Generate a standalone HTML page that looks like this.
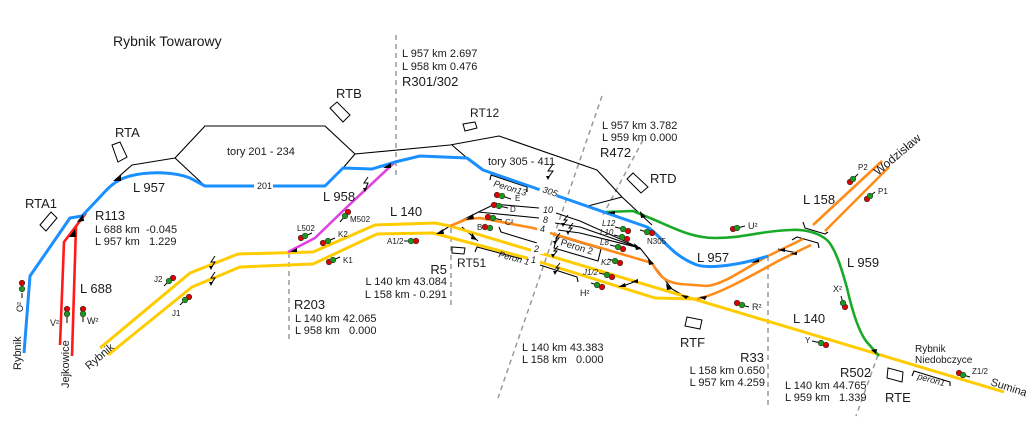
<!DOCTYPE html>
<html><head><meta charset="utf-8"><style>
html,body{margin:0;padding:0;background:#fff}
svg{display:block}
text{font-family:"Liberation Sans",Arial,sans-serif;fill:#1a1a1a;white-space:pre}
.b{font-size:13px}
.m{font-size:11px}
.s{font-size:8px}
.i{font-style:italic}
</style></head><body>
<svg width="1030" height="433" viewBox="0 0 1030 433" xmlns="http://www.w3.org/2000/svg">
<rect width="1030" height="433" fill="#fff"/>

<!-- dashed reference lines -->
<g stroke="#9a9a9a" stroke-width="1.5" stroke-dasharray="5,4" fill="none">
<line x1="396" y1="35" x2="396" y2="176"/>
<line x1="289" y1="253" x2="289" y2="340"/>
<line x1="451" y1="228" x2="451" y2="308"/>
<line x1="602" y1="96" x2="498" y2="398"/>
<line x1="643" y1="140" x2="603" y2="215"/>
<line x1="768" y1="256" x2="768" y2="405"/>
<line x1="878" y1="355" x2="856" y2="416"/>
</g>

<!-- black lines -->
<g stroke="#000" stroke-width="1.1" fill="none" stroke-linejoin="round">
<path d="M115,180 L132,165 L175,158 L205,126 L325,126 L355,154 L343,168"/>
<path d="M175,158 L205,186"/>
<path d="M355,154 L450,145 L499,136 L597,170 L622,197 L652,225"/>
<path d="M452,145 L467,158"/>
<path d="M622,197 L588,206"/>
<path d="M437,234 L450,226 L497,203"/>
<path d="M462,227 L478,241"/>
<path d="M493,204 L539,208 M556,213 L580,221 L640,248"/>
<path d="M478,212 L539,218 M555,223 L580,227 L640,248"/>
<path d="M558,230 L580,233 L640,248"/>
<path d="M640,248 L652,263 L672,289 L684,296"/>
<path d="M620,287 L637,281"/>
<path d="M778,249 L797,253"/>
<path d="M499,227 L501,232 L537,243"/>
<!-- perons -->
<path d="M490,180 L491,175 L527,187 L527,192"/>
<path d="M475,252 L477,247 L522,259"/>
<path d="M540,265 L577,277 L578,282"/>
<polygon points="557,236 601,249 598,261 554,248"/>
<path d="M912,376 L914,371 L950,382 L950,386"/>
<!-- bridge brackets -->
<path d="M803,222 L805,228 L825,234 L828,232"/>
<path d="M792,240 L797,237 L818,243 L819,248"/>
</g>

<!-- coloured tracks -->
<g fill="none" stroke-linejoin="round" stroke-linecap="butt">
<path stroke="#ff1a1a" stroke-width="2.6" d="M60,345 L64,242 L86,213 M72,356 L76,226"/>
<path stroke="#ffcc00" stroke-width="3" d="M100,348 L190,273 L238,254 L313,252 L375,225 L435,223 L450,226 L1004,392"/>
<path stroke="#ffcc00" stroke-width="3" d="M108,355 L192,287 L240,267 L313,264 L377,234 L433,233 L527,258 L655,298 L697,299"/>
<path stroke="#e040e0" stroke-width="2.6" d="M288,252 L315,238 L347,207 L395,162"/>
<path stroke="#ff8c1a" stroke-width="2.6" d="M450,226 L467,219 L480,218 L533,228 L652,263 C658,273 662,282 680,284 L707,286 C725,284 745,268 768,256 L803,239"/>
<path stroke="#ff8c1a" stroke-width="2.6" d="M697,299 C715,295 735,285 780,260 L811,245"/>
<path stroke="#ff8c1a" stroke-width="2.6" d="M813,225 L882,161 M825,231 L889,167"/>
<path stroke="#1aaa2a" stroke-width="2.6" d="M605,212 L633,211 L650,218 C670,226 690,238 715,238 C745,238 760,231 790,230 C805,229 820,233 828,241 C836,250 842,270 847,288 C852,310 858,330 866,341 L879,356"/>
<path stroke="#1a8fff" stroke-width="3" d="M24,353 L30,276 L70,218 L82,216 L100,197 C108,188 115,180 130,176 C150,171 175,172 190,178 L205,186 L325,186 L343,168 L372,169 L395,162 L420,156 L467,158 L483,170 L647,227 C660,234 670,255 697,265 C710,269 740,265 768,256"/>
</g>

<!-- switch triangles -->
<g fill="#000">
<polygon points="113,181 121,175 121,181"/>
<polygon points="69,237 75,229 76,237"/>
<polygon points="77,222 83,214 84,221"/>
<polygon points="383,168 391,163 391,168"/>
<polygon points="290,252 297,248 297,252"/>
<polygon points="436,234 443,229 444,234"/>
<polygon points="466,220 473,214 474,219"/>
<polygon points="472,233 477,240 471,239"/>
<polygon points="607,213 615,211 615,214"/>
<polygon points="640,211 646,217 641,218"/>
<polygon points="634,243 641,249 636,250"/>
<polygon points="648,258 654,264 649,265"/>
<polygon points="666,283 672,289 667,290"/>
<polygon points="618,287 625,283 626,287"/>
<polygon points="631,282 638,279 638,283"/>
<polygon points="681,295 689,296 686,299"/>
<polygon points="699,297 707,296 705,300"/>
<polygon points="751,263 759,259 759,262"/>
<polygon points="778,250 785,248 785,252"/>
<polygon points="790,254 797,252 797,255"/>
<polygon points="871,350 877,349 876,354"/>
</g>

<!-- station boxes -->
<g fill="#fff" stroke="#000" stroke-width="1">
<polygon points="112,145 120,142 127,157 118,162"/>
<polygon points="40,225 51,212 57,218 46,231"/>
<polygon points="330,108 337,102 350,115 343,122"/>
<polygon points="463,124 475,122 477,128 465,131"/>
<polygon points="452,247 465,248 464,254 452,253"/>
<polygon points="627,179 633,173 648,187 641,193"/>
<polygon points="687,317 702,320 700,329 685,326"/>
<polygon points="888,368 903,372 902,382 887,378"/>
</g>

<!-- lightning symbols -->
<g stroke="#000" stroke-width="1" fill="none">
<path d="M215,256 L211,262 L215,262 L211,268"/>
<path d="M215,272 L211,278 L215,278 L211,284"/>
<path d="M368,177 L364,183 L368,183 L365,190"/>
<path d="M553,164 L548,171 L553,171 L548,178"/>
<path d="M568,215 L564,220 L567,220 L563,225"/>
<path d="M573,223 L569,228 L572,228 L568,233"/>
<path d="M560,233 L556,238 L559,238 L555,243"/>
<path d="M558,246 L554,251 L557,251 L553,256"/>
<path d="M560,263 L556,268 L559,268 L555,273"/>
</g>
<g fill="#000">
<polygon points="209,266 211,270 213,266"/>
<polygon points="209,282 211,286 213,282"/>
<polygon points="363,188 365,192 367,188"/>
<polygon points="546,176 548,180 550,176"/>
<polygon points="561,223 563,227 565,223"/>
<polygon points="566,231 568,235 570,231"/>
<polygon points="553,241 555,245 557,241"/>
<polygon points="551,254 553,258 555,254"/>
<polygon points="553,271 555,275 557,271"/>
</g>

<!-- white label backgrounds on tracks -->
<g fill="#fff">
<rect x="254" y="181" width="19" height="10"/>
<rect x="540" y="184" width="18" height="11" transform="rotate(19 549 190)"/>
<rect x="540" y="204" width="15" height="10"/>
<rect x="540" y="214" width="13" height="10"/>
<rect x="537" y="224" width="13" height="10"/>
<rect x="531" y="243" width="13" height="11"/>
<rect x="528" y="254" width="12" height="11"/>
</g>

<!-- signals -->
<g stroke="#000" stroke-width="1">
<line x1="22" y1="293" x2="22" y2="298"/>
<line x1="67" y1="317" x2="67" y2="323"/>
<line x1="83" y1="317" x2="83" y2="322"/>
<line x1="164" y1="286" x2="169" y2="281"/>
<line x1="180" y1="305" x2="185" y2="300"/>
<line x1="305" y1="236" x2="312" y2="233"/>
<line x1="345" y1="216" x2="340" y2="222"/>
<line x1="328" y1="241" x2="335" y2="238"/>
<line x1="333" y1="260" x2="340" y2="257"/>
<line x1="404" y1="241" x2="411" y2="241"/>
<line x1="502" y1="196" x2="511" y2="199"/>
<line x1="499" y1="206" x2="508" y2="208"/>
<line x1="493" y1="218" x2="502" y2="220"/>
<line x1="615" y1="227" x2="623" y2="229"/>
<line x1="614" y1="235" x2="622" y2="237"/>
<line x1="610" y1="245" x2="618" y2="247"/>
<line x1="608" y1="259" x2="615" y2="261"/>
<line x1="599" y1="273" x2="607" y2="275"/>
<line x1="591" y1="283" x2="597" y2="285"/>
<line x1="640" y1="230" x2="647" y2="232"/>
<line x1="737" y1="228" x2="745" y2="226"/>
<line x1="742" y1="305" x2="749" y2="307"/>
<line x1="812" y1="341" x2="821" y2="343"/>
<line x1="841" y1="296" x2="843" y2="303"/>
<line x1="963" y1="375" x2="970" y2="377"/>
<line x1="853" y1="179" x2="858" y2="174"/>
<line x1="870" y1="196" x2="875" y2="192"/>
</g>
<g stroke="#333" stroke-width="0.6">
<g fill="#e00000">
<circle cx="22" cy="283" r="2.8"/><circle cx="67" cy="309" r="2.8"/><circle cx="83" cy="309" r="2.8"/>
<circle cx="173" cy="278" r="2.8"/><circle cx="189" cy="297" r="2.8"/><circle cx="301" cy="238" r="2.8"/>
<circle cx="348" cy="212" r="2.8"/><circle cx="323" cy="243" r="2.8"/><circle cx="329" cy="262" r="2.8"/>
<circle cx="416" cy="241" r="2.8"/><circle cx="497" cy="195" r="2.8"/><circle cx="494" cy="205" r="2.8"/>
<circle cx="488" cy="217" r="2.8"/><circle cx="485" cy="227" r="2.8"/><circle cx="628" cy="231" r="2.8"/>
<circle cx="627" cy="239" r="2.8"/><circle cx="623" cy="249" r="2.8"/><circle cx="620" cy="263" r="2.8"/>
<circle cx="612" cy="277" r="2.8"/><circle cx="602" cy="287" r="2.8"/><circle cx="652" cy="233" r="2.8"/>
<circle cx="733" cy="229" r="2.8"/><circle cx="737" cy="303" r="2.8"/><circle cx="826" cy="345" r="2.8"/>
<circle cx="845" cy="307" r="2.8"/><circle cx="959" cy="373" r="2.8"/><circle cx="850" cy="182" r="2.8"/>
<circle cx="867" cy="199" r="2.8"/>
</g>
<g fill="#1a9a1a">
<circle cx="22" cy="289" r="2.8"/><circle cx="67" cy="314" r="2.8"/><circle cx="83" cy="314" r="2.8"/>
<circle cx="169" cy="281" r="2.8"/><circle cx="185" cy="300" r="2.8"/><circle cx="305" cy="236" r="2.8"/>
<circle cx="345" cy="216" r="2.8"/><circle cx="328" cy="241" r="2.8"/><circle cx="333" cy="260" r="2.8"/>
<circle cx="411" cy="241" r="2.8"/><circle cx="502" cy="196" r="2.8"/><circle cx="499" cy="206" r="2.8"/>
<circle cx="493" cy="218" r="2.8"/><circle cx="490" cy="228" r="2.8"/><circle cx="623" cy="229" r="2.8"/>
<circle cx="622" cy="237" r="2.8"/><circle cx="618" cy="247" r="2.8"/><circle cx="615" cy="261" r="2.8"/>
<circle cx="607" cy="275" r="2.8"/><circle cx="597" cy="285" r="2.8"/><circle cx="647" cy="232" r="2.8"/>
<circle cx="737" cy="228" r="2.8"/><circle cx="742" cy="305" r="2.8"/><circle cx="821" cy="343" r="2.8"/>
<circle cx="843" cy="303" r="2.8"/><circle cx="963" cy="375" r="2.8"/><circle cx="853" cy="179" r="2.8"/>
<circle cx="870" cy="196" r="2.8"/>
</g>
</g>

<!-- big labels -->
<text x="113" y="46" style="font-size:14px">Rybnik Towarowy</text>
<text class="b" x="115" y="137">RTA</text>
<text class="b" x="25" y="208">RTA1</text>
<text class="b" x="133" y="192">L 957</text>
<text class="m" x="227" y="155">tory 201 - 234</text>
<text x="257" y="189" style="font-size:9px">201</text>
<text class="b" x="336" y="98">RTB</text>
<text class="m" x="402" y="57">L 957 km 2.697</text>
<text class="m" x="402" y="70">L 958 km 0.476</text>
<text class="b" x="402" y="86">R301/302</text>
<text x="470" y="117" style="font-size:12px">RT12</text>
<text class="m" x="488" y="165">tory 305 - 411</text>
<text class="b" x="323" y="201">L 958</text>
<text class="b" x="390" y="216">L 140</text>
<text class="b" x="95" y="220">R113</text>
<text class="m" x="95" y="233">L 688 km  -0.045</text>
<text class="m" x="95" y="245">L 957 km   1.229</text>
<text class="b" x="80" y="293">L 688</text>
<text class="b" x="447" y="274" text-anchor="end">R5</text>
<text class="m" x="447" y="285" text-anchor="end">L 140 km 43.084</text>
<text class="m" x="447" y="298" text-anchor="end">L 158 km - 0.291</text>
<text x="457" y="267" style="font-size:12px">RT51</text>
<text class="b" x="294" y="309">R203</text>
<text class="m" x="295" y="322">L 140 km 42.065</text>
<text class="m" x="295" y="334">L 958 km   0.000</text>
<text class="m" x="602" y="129">L 957 km 3.782</text>
<text class="m" x="602" y="141">L 959 km 0.000</text>
<text class="b" x="600" y="157">R472</text>
<text class="b" x="650" y="183">RTD</text>
<text class="b" x="697" y="262">L 957</text>
<text class="b" x="803" y="204">L 158</text>
<text class="b" x="847" y="267">L 959</text>
<text class="b" x="793" y="323">L 140</text>
<text class="b" x="680" y="347">RTF</text>
<text class="m" x="522" y="351">L 140 km 43.383</text>
<text class="m" x="522" y="363">L 158 km   0.000</text>
<text class="b" x="764" y="362" text-anchor="end">R33</text>
<text class="m" x="765" y="374" text-anchor="end">L 158 km 0.650</text>
<text class="m" x="765" y="386" text-anchor="end">L 957 km 4.259</text>
<text class="b" x="840" y="377">R502</text>
<text class="m" x="785" y="389">L 140 km 44.765</text>
<text class="m" x="785" y="401">L 959 km   1.339</text>
<text class="b" x="885" y="402">RTE</text>
<text x="915" y="352" style="font-size:10px">Rybnik</text>
<text x="915" y="363" style="font-size:10px">Niedobczyce</text>

<!-- rotated place names -->
<text class="m" transform="translate(990,385) rotate(18)">Sumina</text>
<text transform="translate(878,176) rotate(-40)" style="font-size:12px">Wodzisław</text>
<text class="m" transform="translate(21,370) rotate(-90)">Rybnik</text>
<text class="m" transform="translate(69,388) rotate(-90)">Jejkowice</text>
<text class="m" transform="translate(89,370) rotate(-40)">Rybnik</text>

<!-- perons & track numbers -->
<text class="i" transform="translate(493,186) rotate(17)" style="font-size:9px">Peron13</text>
<text class="i" transform="translate(498,257) rotate(15)" style="font-size:9px">Peron 1</text>
<text transform="translate(560,245) rotate(17)" style="font-size:9.5px">Peron 2</text>
<text class="i" transform="translate(917,379) rotate(15)" style="font-size:9px">peron1</text>
<text class="i" transform="translate(542,192) rotate(19)" style="font-size:9px">305</text>
<text class="i" x="543" y="213" style="font-size:9px">10</text>
<text class="i" x="543" y="223" style="font-size:9px">8</text>
<text class="i" x="540" y="232" style="font-size:9px">4</text>
<text class="i" x="534" y="252" style="font-size:9px">2</text>
<text class="i" x="531" y="263" style="font-size:9px">1</text>

<!-- signal labels -->
<text class="s" transform="translate(23,312) rotate(-90)" style="font-size:9px">O²</text>
<text class="s" x="50" y="326" style="font-size:9px">V²</text>
<text class="s" x="87" y="324" style="font-size:9px">W²</text>
<text class="s" x="154" y="282">J2</text>
<text class="s" x="172" y="316">J1</text>
<text class="s" x="297" y="231">L502</text>
<text class="s" x="350" y="222">M502</text>
<text class="s" x="338" y="237">K2</text>
<text class="s" x="343" y="263">K1</text>
<text class="s" x="387" y="244">A1/2</text>
<text class="s" x="515" y="201">E</text>
<text class="s" x="510" y="212">D</text>
<text class="s" x="505" y="225">C²</text>
<text class="s" x="477" y="230">B</text>
<text class="s i" x="602" y="226">L12</text>
<text class="s i" x="600" y="235">L10</text>
<text class="s i" x="600" y="245">L8</text>
<text class="s i" x="601" y="265">K2</text>
<text class="s i" x="583" y="275">J1/2</text>
<text class="s" x="580" y="296" style="font-size:9px">H²</text>
<text class="s" x="647" y="244">N305</text>
<text class="s" x="748" y="229" style="font-size:9px">U²</text>
<text class="s" x="752" y="310" style="font-size:9px">R²</text>
<text class="s" x="833" y="292" style="font-size:9px">X²</text>
<text class="s" x="805" y="343">Y</text>
<text class="s" x="972" y="374">Z1/2</text>
<text class="s" x="858" y="170">P2</text>
<text class="s" x="878" y="194">P1</text>
</svg>
</body></html>
